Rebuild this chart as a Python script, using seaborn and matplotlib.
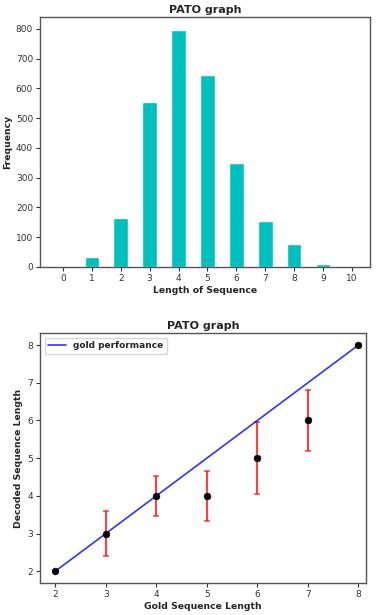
import numpy as np
import pandas as pd
import matplotlib
matplotlib.use("Agg")
import matplotlib.pyplot as plt
import seaborn as sns

# Data for the histogram-like bar chart
seq_lengths = [0, 1, 2, 3, 4, 5, 6, 7, 8, 9, 10]
frequencies = [2, 32, 163, 556, 797, 645, 350, 155, 76, 10, 1]

# Data for the performance chart
gold_lengths = [2, 3, 4, 5, 6, 7, 8]
decoded_means = [2, 3, 4, 4, 5, 6, 8]
decoded_err = [0, 0.6, 0.52, 0.67, 0.95, 0.8, 0]
gold_line_x = [2, 8]
gold_line_y = [2, 8]

sns.set_style("white")
plt.rcParams["font.family"] = ["DejaVu Sans"]
plt.rcParams["axes.edgecolor"] = "#555555"
plt.rcParams["axes.linewidth"] = 1.0
plt.rcParams["xtick.color"] = "#333333"
plt.rcParams["ytick.color"] = "#333333"

fig = plt.figure(figsize=(3.79, 6.15), dpi=100)
ax1 = fig.add_axes([40/379, 1 - 267/615, 330/379, 250/615])
ax2 = fig.add_axes([40/379, 1 - 583/615, 326/379, 250/615])

df1 = pd.DataFrame({"len": seq_lengths, "freq": frequencies})
sns.barplot(data=df1, x="len", y="freq", color="c", saturation=1, width=0.5, ax=ax1)
ax1.set_xlim(-0.79, 10.62)
ax1.set_ylim(0, 840)
ax1.set_yticks([0, 100, 200, 300, 400, 500, 600, 700, 800])
ax1.set_title("PATO graph", fontsize=8, fontweight="bold", pad=3)
ax1.set_xlabel("Length of Sequence", fontsize=6.7, fontweight="bold", labelpad=2)
ax1.set_ylabel("Frequency", fontsize=6.7, fontweight="bold", labelpad=3)

df_line = pd.DataFrame({"x": gold_line_x, "y": gold_line_y})
sns.lineplot(data=df_line, x="x", y="y", color="blue", alpha=0.8, lw=1.2,
             label="gold performance", ax=ax2)
ax2.errorbar(gold_lengths, decoded_means, yerr=decoded_err, fmt="none",
             ecolor="red", alpha=0.75, elinewidth=1.5, capsize=2, capthick=1.1, zorder=1)
df_pts = pd.DataFrame({"x": gold_lengths, "y": decoded_means})
sns.scatterplot(data=df_pts, x="x", y="y", color="black", s=24, edgecolor="black",
                zorder=2, ax=ax2)
ax2.set_xlim(1.7, 8.15)
ax2.set_ylim(1.69, 8.32)
ax2.set_xticks([2, 3, 4, 5, 6, 7, 8])
ax2.set_yticks([2, 3, 4, 5, 6, 7, 8])
ax2.set_title("PATO graph", fontsize=8, fontweight="bold", pad=3)
ax2.set_xlabel("Gold Sequence Length", fontsize=6.7, fontweight="bold", labelpad=2)
ax2.set_ylabel("Decoded Sequence Length", fontsize=6.7, fontweight="bold", labelpad=3)
ax2.legend(loc="upper left", prop={"weight": "bold", "size": 6.5}, frameon=True,
           handlelength=2, borderpad=0.4)

for ax in (ax1, ax2):
    ax.tick_params(axis="both", labelsize=6.5, length=3, width=0.8, direction="out",
                   bottom=True, left=True, pad=2)
    for s in ax.spines.values():
        s.set_visible(True)

fig.savefig("out.png", dpi=100)
